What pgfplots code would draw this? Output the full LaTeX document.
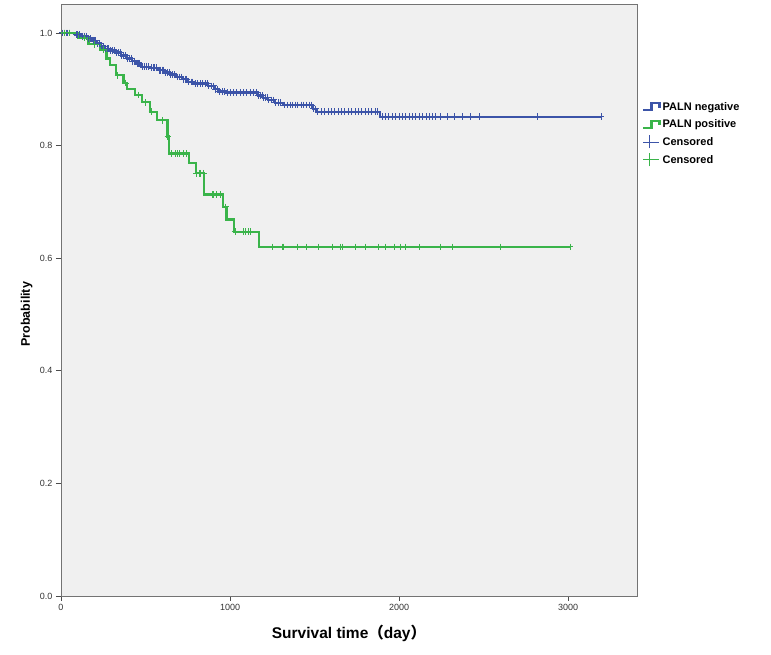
\documentclass[border=0pt]{standalone}
\usepackage{fontspec}
\setmainfont{Liberation Sans}
\newfontfamily\cjk{Noto Sans CJK SC}
\usepackage{pgfplots}
\usepackage{pgfplotstable}
\pgfplotsset{compat=1.18}
\definecolor{kmblue}{RGB}{60,84,168}
\definecolor{kmgreen}{RGB}{58,180,74}
\definecolor{bgc}{RGB}{240,240,240}

\pgfplotstableread{
d s
0 1.0
60 1.0
83 0.997
124 0.994
160 0.990
183 0.986
213 0.981
237 0.976
260 0.972
290 0.969
325 0.965
355 0.960
390 0.955
420 0.950
444 0.946
473 0.940
527 0.938
574 0.934
615 0.930
645 0.926
680 0.922
716 0.918
751 0.913
787 0.910
870 0.906
911 0.900
935 0.896
976 0.894
1166 0.889
1195 0.885
1225 0.881
1266 0.876
1314 0.872
1491 0.865
1510 0.860
1888 0.851
3195 0.851
}\bluedata

\pgfplotstableread{
d s
0 1.0
99 0.991
162 0.980
230 0.970
270 0.955
290 0.943
325 0.925
369 0.911
390 0.900
438 0.890
481 0.877
527 0.860
568 0.845
630 0.816
640 0.786
757 0.769
797 0.751
846 0.713
960 0.691
980 0.669
1024 0.647
1172 0.620
3010 0.620
}\greendata

\pgfplotstableread{
d s
10 1.0
20 1.0
30 1.0
40 1.0
50 1.0
90 0.997
100 0.997
110 0.997
130 0.994
140 0.994
150 0.994
165 0.990
175 0.990
190 0.986
200 0.986
205 0.986
218 0.981
225 0.981
230 0.981
242 0.976
250 0.976
265 0.972
275 0.972
283 0.972
295 0.969
305 0.969
315 0.969
330 0.965
340 0.965
350 0.965
360 0.960
370 0.960
380 0.960
395 0.955
405 0.955
415 0.955
425 0.950
435 0.950
450 0.946
460 0.946
467 0.946
480 0.940
495 0.940
505 0.940
515 0.940
535 0.938
545 0.938
555 0.938
565 0.938
580 0.934
590 0.934
600 0.934
608 0.934
620 0.930
630 0.930
640 0.930
650 0.926
660 0.926
672 0.926
688 0.922
700 0.922
710 0.922
722 0.918
735 0.918
745 0.918
757 0.913
770 0.913
780 0.913
795 0.910
810 0.910
825 0.910
840 0.910
855 0.910
865 0.910
875 0.906
890 0.906
900 0.906
915 0.900
925 0.900
940 0.896
955 0.896
965 0.896
985 0.894
1000 0.894
1020 0.894
1040 0.894
1060 0.894
1080 0.894
1100 0.894
1120 0.894
1140 0.894
1155 0.894
1170 0.889
1180 0.889
1190 0.889
1200 0.885
1210 0.885
1220 0.885
1230 0.881
1245 0.881
1258 0.881
1270 0.876
1285 0.876
1300 0.876
1320 0.872
1340 0.872
1355 0.872
1370 0.872
1385 0.872
1400 0.872
1420 0.872
1435 0.872
1450 0.872
1470 0.872
1485 0.872
1495 0.865
1505 0.865
1520 0.860
1540 0.860
1560 0.860
1580 0.860
1600 0.860
1620 0.860
1640 0.860
1660 0.860
1680 0.860
1700 0.860
1720 0.860
1740 0.860
1760 0.860
1780 0.860
1800 0.860
1820 0.860
1840 0.860
1860 0.860
1875 0.860
1900 0.851
1920 0.851
1940 0.851
1960 0.851
1980 0.851
2000 0.851
2020 0.851
2040 0.851
2060 0.851
2080 0.851
2100 0.851
2120 0.851
2140 0.851
2160 0.851
2180 0.851
2200 0.851
2215 0.851
2243 0.851
2284 0.851
2331 0.851
2373 0.851
2420 0.851
2479 0.851
2822 0.851
3195 0.851
}\bluecens

\pgfplotstableread{
d s
18 1.0
53 1.0
140 0.991
200 0.980
250 0.970
337 0.925
380 0.911
460 0.890
500 0.877
538 0.860
603 0.845
633 0.816
655 0.786
680 0.786
688 0.786
700 0.786
724 0.786
740 0.786
803 0.751
817 0.751
828 0.751
842 0.751
895 0.713
901 0.713
921 0.713
941 0.713
976 0.691
1030 0.647
1079 0.647
1093 0.647
1112 0.647
1124 0.647
1249 0.620
1308 0.620
1314 0.620
1402 0.620
1450 0.620
1521 0.620
1604 0.620
1651 0.620
1663 0.620
1740 0.620
1800 0.620
1876 0.620
1917 0.620
1976 0.620
2006 0.620
2036 0.620
2124 0.620
2243 0.620
2314 0.620
2598 0.620
3012 0.620
}\greencens

\pgfplotsset{
  steplegend/.style={legend image code/.code={
    \draw[##1, line width=2.2pt] (0pt,-3.5pt) -- (8pt,-3.5pt) -- (8pt,3.5pt) -- (16pt,3.5pt) -- (16pt,-1pt);}},
  censlegend/.style={legend image code/.code={
    \draw[##1, line width=0.9pt] (0pt,0pt) -- (16pt,0pt);
    \draw[##1, line width=0.9pt] (6pt,-6.5pt) -- (6pt,6.5pt);}}
}

\begin{document}
\begin{tikzpicture}
\path[use as bounding box] (-61pt,-59pt) rectangle (710pt,596pt);
\begin{axis}[
  at={(0pt,0pt)}, anchor=south west,
  width=576pt, height=592pt, scale only axis,
  xmin=0, xmax=3408, ymin=0, ymax=1.0515,
  axis background/.style={fill=bgc},
  axis line style={draw=black!55, line width=0.9pt},
  xtick={0,1000,2000,3000},
  ytick={0,0.2,0.4,0.6,0.8,1.0},
  yticklabels={0.0,0.2,0.4,0.6,0.8,1.0},
  xticklabels={0,1000,2000,3000},
  xtick pos=bottom, ytick pos=left,
  tick align=outside, major tick length=5pt,
  every tick/.style={black!70, line width=0.8pt},
  tick label style={font=\fontsize{9}{10}\selectfont, text=black!80},
  /pgf/number format/assume math mode=true,
  xlabel={\bfseries Survival time{\cjk （}day{\cjk ）}},
  ylabel={\bfseries Probability},
  xlabel style={font=\fontsize{15.5}{17}\selectfont, yshift=-7pt},
  ylabel style={font=\fontsize{12.5}{14}\selectfont, at={(axis description cs:0,0.476)}, yshift=25pt},
  legend style={at={(rel axis cs:1.009,0.838)}, anchor=north west, draw=none, fill=none,
    font=\bfseries\fontsize{11}{13}\selectfont, row sep=4pt, inner sep=0pt,
    /tikz/every even column/.append style={column sep=0pt}},
  legend cell align=left,
]
\addplot[const plot, kmblue, line width=2.4pt, forget plot] table[x=d,y=s] {\bluedata};
\addplot[const plot, kmgreen, line width=2.4pt, forget plot] table[x=d,y=s] {\greendata};
\addplot[only marks, mark=+, mark size=3.4pt, kmblue, mark options={line width=1pt}, forget plot] table[x=d,y=s] {\bluecens};
\addplot[only marks, mark=+, mark size=3.4pt, kmgreen, mark options={line width=1pt}, forget plot] table[x=d,y=s] {\greencens};
\addlegendimage{kmblue, steplegend}
\addlegendentry{PALN negative}
\addlegendimage{kmgreen, steplegend}
\addlegendentry{PALN positive}
\addlegendimage{kmblue, censlegend}
\addlegendentry{Censored}
\addlegendimage{kmgreen, censlegend}
\addlegendentry{Censored}
\end{axis}
\end{tikzpicture}
\end{document}
